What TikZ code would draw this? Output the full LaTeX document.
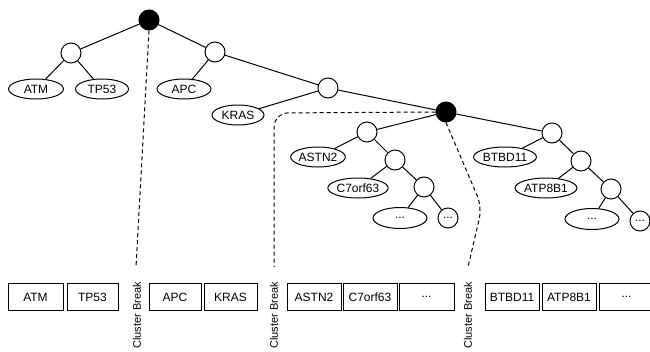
\documentclass[tikz,border=0pt]{standalone}
\usepackage{fontspec}
\setmainfont{Liberation Sans}
\usetikzlibrary{shapes.geometric}
\begin{document}
\begin{tikzpicture}[x=1pt,y=-1pt,
  every node/.style={font=\fontsize{12}{14}\selectfont, inner sep=0pt},
  wc/.style={circle, draw, fill=white, minimum size=20pt, line width=1pt},
  bc/.style={circle, draw, fill=black, minimum size=20pt, line width=1pt},
  leaf/.style={ellipse, draw, fill=white, minimum width=54pt, minimum height=20pt, line width=1pt},
  gbox/.style={rectangle, draw, minimum height=27pt, line width=1pt},
  edge/.style={line width=1pt},
  brk/.style={line width=1pt, dash pattern=on 4pt off 3pt},
  brklbl/.style={rotate=90, anchor=east, font=\fontsize{11}{13}\selectfont}]
\useasboundingbox (0,0) rectangle (650,351);
\clip (0,0) rectangle (650,351);
% free ends of the cluster-break lines
\coordinate (d1) at (136,267);
\coordinate (d2) at (274,267);
\coordinate (d3) at (468,267);
\coordinate (d3m) at (482,207);
\coordinate (d2c) at (274,113);
% tree nodes
\node[bc] (r) at (149,20) {};
\node[wc] (n1) at (71,53) {};
\node[leaf, minimum width=55pt] (atm) at (36,89) {ATM};
\node[leaf, minimum width=53pt] (tp53) at (102,89) {TP53};
\node[wc] (n2) at (215,52) {};
\node[leaf] (apc) at (184,89) {APC};
\node[wc] (n3) at (328,88) {};
\node[leaf, minimum width=52pt] (kras) at (238,115) {KRAS};
\node[bc] (b2) at (446,112) {};
\node[wc] (n4) at (367,132) {};
\node[leaf] (astn2) at (318,157) {ASTN2};
\node[wc] (n5) at (395,160) {};
\node[leaf] (c7) at (358,188) {C7orf63};
\node[wc] (n6) at (424,187) {};
\node[leaf, minimum height=21pt] (e1) at (400,218) {...};
\node[wc] (s1) at (448,218) {...};
\node[wc] (n7) at (552,133) {};
\node[leaf] (btbd11) at (505,157) {BTBD11};
\node[wc] (n8) at (581,161) {};
\node[leaf] (atp8b1) at (546,188) {ATP8B1};
\node[wc] (n9) at (611,189) {};
\node[leaf, minimum height=21pt] (e2) at (592,219) {...};
\node[wc] (s2) at (640,221) {...};
% dashed cluster-break lines
\draw[brk] (r.south) -- (d1);
\draw[brk, rounded corners=14pt] (b2.west) -- (d2c) -- (d2);
\draw[brk, rounded corners=12pt] (b2.south) -- (d3m) -- (d3);
% edges
\draw[edge] (r) -- (n1);
\draw[edge] (r) -- (n2);
\draw[edge] (n1) -- (atm);
\draw[edge] (n1) -- (tp53);
\draw[edge] (n2) -- (apc);
\draw[edge] (n2) -- (n3);
\draw[edge] (n3) -- (kras);
\draw[edge] (n3) -- (b2);
\draw[edge] (b2) -- (n4);
\draw[edge] (b2) -- (n7);
\draw[edge] (n4) -- (astn2);
\draw[edge] (n4) -- (n5);
\draw[edge] (n5) -- (c7);
\draw[edge] (n5) -- (n6);
\draw[edge] (n6) -- (e1);
\draw[edge] (n6) -- (s1);
\draw[edge] (n7) -- (btbd11);
\draw[edge] (n7) -- (n8);
\draw[edge] (n8) -- (atp8b1);
\draw[edge] (n8) -- (n9);
\draw[edge] (n9) -- (e2);
\draw[edge] (n9) -- (s2);
% boxes
\node[gbox, minimum width=55pt] (bATM) at (35.5,297) {ATM};
\node[gbox, minimum width=51pt] (bTP53) at (92.5,297) {TP53};
\node[gbox, minimum width=52pt] (bAPC) at (175,297) {APC};
\node[gbox, minimum width=53pt] (bKRAS) at (230.5,297) {KRAS};
\node[gbox, minimum width=54pt] (bASTN2) at (314,297) {ASTN2};
\node[gbox, minimum width=54pt] (bC7) at (370,297) {C7orf63};
\node[gbox, minimum width=55pt] (bD1) at (426.5,297) {...};
\node[gbox, minimum width=54pt] (bBTBD11) at (512,297) {BTBD11};
\node[gbox, minimum width=54pt] (bATP8B1) at (569,297) {ATP8B1};
\node[gbox, minimum width=55pt] (bD2) at (626.5,297) {...};
% labels
\node[brklbl] (l1) at (137,282) {Cluster Break};
\node[brklbl] (l2) at (274,282) {Cluster Break};
\node[brklbl] (l3) at (468,282) {Cluster Break};
\end{tikzpicture}
\end{document}
